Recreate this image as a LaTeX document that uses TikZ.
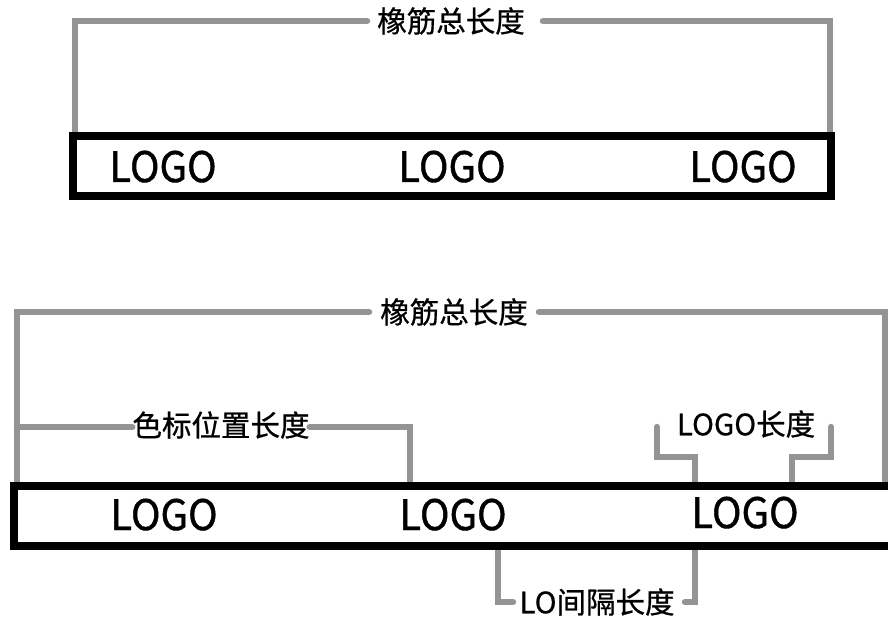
\documentclass[tikz,border=0pt]{standalone}
\usepackage{fontspec}
\setmainfont{Noto Sans CJK SC}[FakeBold=0.7]
\newfontfamily\logofont{Noto Sans CJK SC}[FakeBold=0.9, FakeStretch=0.95]
\pgfdeclarelayer{bg}
\pgfsetlayers{bg,main}
\tikzset{
  dimline/.style={draw=black!42, line width=6.5pt, line cap=round, line join=miter},
  bar/.style={draw=black, line width=8pt, fill=white, inner sep=0pt},
  logo/.style={font=\logofont\fontsize{42}{44}\selectfont, anchor=base, inner sep=0pt},
  lbl/.style={font=\fontsize{29.5}{31}\selectfont, inner sep=2pt},
}
\begin{document}
\begin{tikzpicture}[x=1pt,y=-1pt]
\useasboundingbox (0,0) rectangle (888,617);
\clip (0,0) rectangle (888,617);
% ---------- top diagram ----------
\node[bar, minimum width=758pt, minimum height=60pt] (tbar) at (452,166) {};
\node[logo] (tl1) at (163,182) {LOGO};
\node[logo] (tl2) at (452,182) {LOGO};
\node[logo] (tl3) at (743,182) {LOGO};
\node[lbl, inner sep=10pt] (ttitle) at (451,21) {橡筋总长度};
\coordinate (tA) at (75,21);
\coordinate (tB) at (75,140);
\coordinate (tC) at (830,21);
\coordinate (tD) at (830,140);
% ---------- bottom diagram ----------
\node[bar, minimum width=886pt, minimum height=60pt] (bbar) at (457,516) {};
\node[logo] (bl1) at (164,530) {LOGO};
\node[logo] (bl2) at (453,530) {LOGO};
\node[logo] (bl3) at (745,528) {LOGO};
\node[lbl, inner sep=11pt] (btitle) at (454,312) {橡筋总长度};
\node[lbl, inner sep=0pt] (pos) at (221,425) {色标位置长度};
\node[lbl, inner sep=1pt] (loglen) at (746,424) {LOGO长度};
\node[lbl, inner sep=1pt] (gap) at (597,602) {LO间隔长度};
\coordinate (bA) at (17,312);
\coordinate (bB) at (17,490);
\coordinate (bC) at (885,312);
\coordinate (bD) at (885,490);
\coordinate (pL) at (17,427);
\coordinate (pR1) at (410,427);
\coordinate (pR2) at (410,490);
\coordinate (g1) at (657,427);
\coordinate (g2) at (657,457);
\coordinate (g3) at (695,457);
\coordinate (g4) at (695,490);
\coordinate (h1) at (831,427);
\coordinate (h2) at (831,457);
\coordinate (h3) at (792,457);
\coordinate (h4) at (792,490);
\coordinate (k1) at (498,542);
\coordinate (k2) at (498,602);
\coordinate (k3) at (513,602);
\coordinate (m1) at (685,602);
\coordinate (m2) at (695,602);
\coordinate (m3) at (695,542);
\begin{pgfonlayer}{bg}
  \draw[dimline] (ttitle.west) -- (tA) -- (tB);
  \draw[dimline] ([xshift=8pt]ttitle.east) -- (tC) -- (tD);
  \draw[dimline] (btitle.west) -- (bA) -- (bB);
  \draw[dimline] (btitle.east) -- (bC) -- (bD);
  \draw[dimline] (pL) -- (pL -| pos.west);
  \draw[dimline] (pR1 -| pos.east) -- (pR1) -- (pR2);
  \draw[dimline] (g1) -- (g2) -- (g3) -- (g4);
  \draw[dimline] (h1) -- (h2) -- (h3) -- (h4);
  \draw[dimline] (k1) -- (k2) -- (k3);
  \draw[dimline] (m1) -- (m2) -- (m3);
\end{pgfonlayer}
\end{tikzpicture}
\end{document}
